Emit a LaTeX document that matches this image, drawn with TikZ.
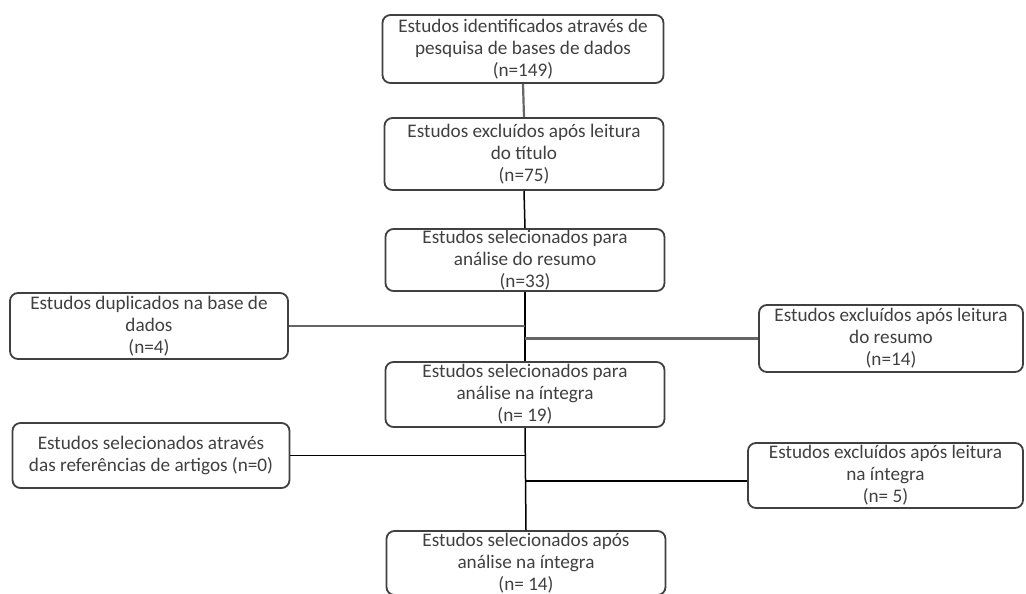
\documentclass[tikz,border=0pt]{standalone}
\usepackage{fontspec}
\setmainfont{Carlito}
\usepackage{tikz}
\usetikzlibrary{calc}
\definecolor{boxgray}{HTML}{404040}
\tikzset{
	box/.style={draw=boxgray, line width=1.8pt, rounded corners=8pt, align=center, inner xsep=2pt, inner ysep=0pt, text=boxgray, font=\fontsize{19.2}{22}\selectfont},
	link/.style={line width=1.5pt, color=black},
	greylink/.style={line width=2.2pt, color=black!60}
}

\begin{document}
\begin{tikzpicture}[x=1pt, y=-1pt]
			%%%%% START %%%%%
			\useasboundingbox (0, 0) rectangle (1026, 594);
			
			% main column
			\node[box, minimum width=281, minimum height=68] (ident) at (523, 49) {Estudos identificados através de\\pesquisa de bases de dados\\(n=149)};
			\node[box, minimum width=279, minimum height=72] (titulo) at (524, 154) {Estudos excluídos após leitura\\do título\\(n=75)};
			\node[box, minimum width=279, minimum height=62] (resumo) at (525, 260) {Estudos selecionados para\\análise do resumo\\(n=33)};
			\node[box, minimum width=279, minimum height=65] (integra) at (525, 394.5) {Estudos selecionados para\\análise na íntegra\\(n= 19)};
			\node[box, minimum width=279, minimum height=64] (final) at (526, 563) {Estudos selecionados após\\análise na íntegra\\(n= 14)};
			
			% side boxes
			\node[box, minimum width=278, minimum height=66] (dup) at (149, 326) {Estudos duplicados na base de\\dados\\(n=4)};
			\node[box, minimum width=264, minimum height=67] (exres) at (891, 338.5) {Estudos excluídos após leitura\\do resumo\\(n=14)};
			\node[box, minimum width=277, minimum height=65] (refs) at (151, 455.5) {Estudos selecionados através\\das referências de artigos (n=0)};
			\node[box, minimum width=275, minimum height=65] (exint) at (885.5, 475.5) {Estudos excluídos após leitura\\na íntegra\\(n= 5)};
			
			% trunk
			\draw[greylink] (ident.south) -- (titulo.north);
			\draw[link] (titulo.south) -- (resumo.north);
			\draw[link] (resumo.south) -- (integra.north);
			\draw[link] (integra.south) -- (final.north);
			
			% branches
			\coordinate (jdup) at (resumo.south |- dup.east);
			\coordinate (jres) at (resumo.south |- exres.west);
			\coordinate (jrefs) at (integra.south |- refs.east);
			\coordinate (jint) at (integra.south |- 0, 481);
			
			\draw[greylink] (dup.east) -- (jdup);
			\draw[greylink] (jres) -- (exres.west);
			\draw[link] (refs.east) -- (jrefs);
			\draw[link] (jint) -- (jint -| exint.west);
			
			%%%%% END %%%%%
\end{tikzpicture}
\end{document}
